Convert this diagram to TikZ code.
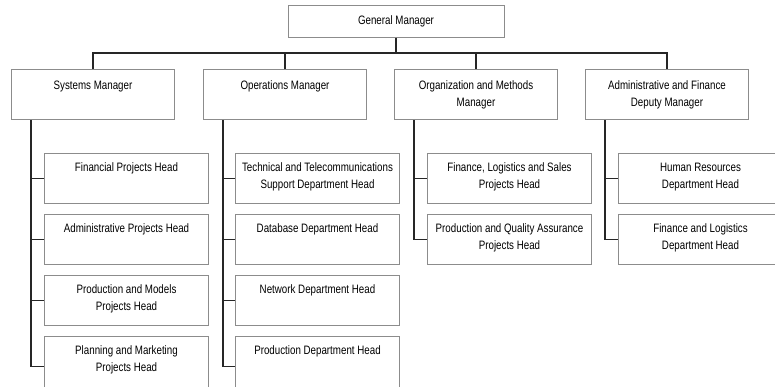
\documentclass[tikz,border=0pt]{standalone}
\usepackage{fontspec}
\setmainfont[FakeStretch=0.8]{Liberation Sans}

\definecolor{boxline}{gray}{0.55}
\definecolor{wire}{gray}{0.15}

\tikzset{
  unit/.style={draw=boxline, line width=1pt, inner sep=0pt,
    font=\fontsize{12.2}{17.5}\selectfont},
  cell/.style={unit, anchor=north west},
  conn/.style={draw=wire, line width=1.1pt},
}

% top-aligned text block of fixed size: height, width, gap above first line, text
\newcommand\topcell[4]{\parbox[c][#1][t]{#2}{\vspace*{#3}\centering\strut#4\par}}
\newcommand\mgr[1]{\topcell{50pt}{163pt}{7.5pt}{#1}}
\newcommand\head[1]{\topcell{50pt}{164pt}{5.5pt}{#1}}
\newcommand\headlow[1]{\topcell{60pt}{164pt}{5.5pt}{#1}}

\begin{document}
\begin{tikzpicture}[x=1pt, y=-1pt]
  \useasboundingbox (0,0) rectangle (775,386);
  \clip (0,0) rectangle (775,386);

  % top of the chart
  \node[unit, minimum width=216pt, minimum height=32pt] (gm) at (396,21) {General Manager};
  \coordinate (bar) at (0,53);

  % managers
  \node[cell] (sm) at (11,69)  {\mgr{Systems Manager}};
  \node[cell] (om) at (203,69) {\mgr{Operations Manager}};
  \node[cell] (mm) at (394,69) {\mgr{Organization and Methods\\Manager}};
  \node[cell] (am) at (585,69) {\mgr{Administrative and Finance\\Deputy Manager}};

  % systems
  \node[cell] (fph) at (44,153) {\head{Financial Projects Head}};
  \node[cell] (aph) at (44,214) {\head{Administrative Projects Head}};
  \node[cell] (pmh) at (44,275) {\head{Production and Models\\Projects Head}};
  \node[cell] (pkh) at (44,336) {\headlow{Planning and Marketing\\Projects Head}};

  % operations
  \node[cell] (tth) at (235,153) {\head{Technical and Telecommunications\\Support Department Head}};
  \node[cell] (dbh) at (235,214) {\head{Database Department Head}};
  \node[cell] (nwh) at (235,275) {\head{Network Department Head}};
  \node[cell] (pdh) at (235,336) {\headlow{Production Department Head}};

  % organization and methods
  \node[cell] (flh) at (427,153) {\head{Finance, Logistics and Sales\\Projects Head}};
  \node[cell] (pqh) at (427,214) {\head{Production and Quality Assurance\\Projects Head}};

  % administrative and finance
  \node[cell] (hrh) at (618,153) {\head{Human Resources\\Department Head}};
  \node[cell] (fdh) at (618,214) {\head{Finance and Logistics\\Department Head}};

  % general manager to managers
  \draw[conn] (gm.south) -- (gm.south |- bar);
  \draw[conn] (sm.north) |- (am.north |- bar) -- (am.north);
  \draw[conn] (om.north) -- (om.north |- bar);
  \draw[conn] (mm.north) -- (mm.north |- bar);

  % managers to heads
  \foreach \m/\h in {sm/fph, sm/aph, sm/pmh, sm/pkh,
                     om/tth, om/dbh, om/nwh, om/pdh,
                     mm/flh, mm/pqh,
                     am/hrh, am/fdh}
    \draw[conn] ([xshift=20pt]\m.south west) |- (\h.west);
\end{tikzpicture}
\end{document}
